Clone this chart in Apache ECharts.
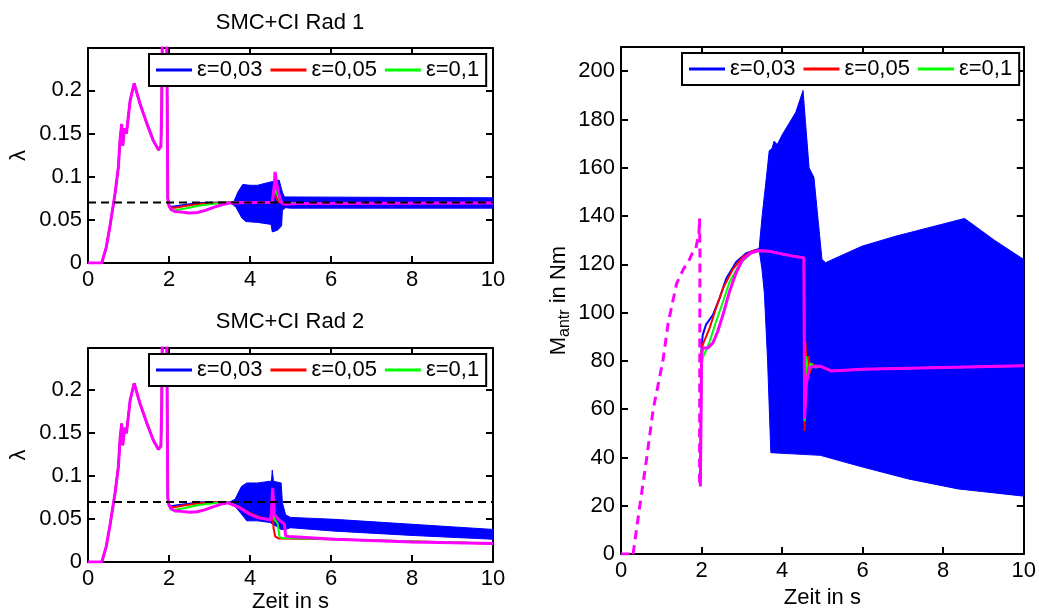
<!DOCTYPE html>
<html>
<head>
<meta charset="utf-8">
<script src="https://cdn.jsdelivr.net/npm/echarts@6/dist/echarts.min.js"></script>
<style>
  html, body { margin: 0; background: #fff; }
  #chart { width: 1039px; height: 614px; }
</style>
</head>
<body>
<div id="chart"></div>
<script>
// ---- data (time in s) ----
// common start of the slip curves (all four eps variants lie on top of each other here)
const riseT = [0, 0.34, 0.45, 0.54, 0.67, 0.75, 0.79, 0.83, 0.86, 0.9, 0.95, 1.04, 1.14, 1.28, 1.45, 1.61, 1.74, 1.8, 1.82, 1.84, 1.94, 1.97];
const riseLambda = [0, 0, 0.018, 0.042, 0.081, 0.111, 0.142, 0.161, 0.136, 0.156, 0.15, 0.188, 0.208, 0.185, 0.162, 0.142, 0.131, 0.135, 0.18, 0.3, 0.3, 0.075];
const lambdaRef = 0.07;

// Rad 1
const rad1Blue = [[2.0, 0.067], [2.05, 0.065], [2.2, 0.066], [2.5, 0.068], [2.8, 0.0695], [3.5, 0.07]];
const rad1BandUpper = [[3.5, 0.07], [3.6, 0.071], [3.7, 0.082], [3.82, 0.091], [4.0, 0.09], [4.19, 0.09], [4.43, 0.093], [4.72, 0.096], [4.8, 0.082], [4.85, 0.0765], [5.0, 0.0765], [10, 0.0755]];
const rad1BandLower = [[3.5, 0.07], [3.65, 0.065], [3.8, 0.052], [3.9, 0.048], [4.19, 0.047], [4.52, 0.0447], [4.55, 0.036], [4.68, 0.038], [4.78, 0.043], [4.8, 0.061], [4.88, 0.064], [5.0, 0.0635], [10, 0.0635]];
const rad1Red = [[2.0, 0.066], [2.05, 0.064], [2.15, 0.064], [2.4, 0.066], [2.7, 0.068], [3.0, 0.0695], [3.5, 0.07], [4.55, 0.07], [4.58, 0.085], [4.62, 0.078], [4.7, 0.071], [4.8, 0.0695], [10, 0.0695]];
const rad1Green = [[2.0, 0.066], [2.05, 0.061], [2.15, 0.061], [2.4, 0.063], [2.7, 0.066], [3.0, 0.068], [3.3, 0.0695], [3.5, 0.07], [4.55, 0.07], [4.6, 0.088], [4.66, 0.08], [4.75, 0.071], [4.85, 0.0695], [10, 0.0695]];
const rad1Magenta = [[2.0, 0.066], [2.05, 0.062], [2.15, 0.0595], [2.3, 0.059], [2.5, 0.058], [2.7, 0.0585], [2.9, 0.061], [3.1, 0.0645], [3.3, 0.0675], [3.5, 0.0695], [4.0, 0.07], [4.55, 0.07], [4.6, 0.09], [4.62, 0.1055], [4.65, 0.095], [4.7, 0.082], [4.75, 0.073], [4.8, 0.069], [4.9, 0.068], [5.2, 0.069], [10, 0.0695]];

// Rad 2
const rad2Blue = [[2.0, 0.067], [2.05, 0.065], [2.2, 0.066], [2.5, 0.068], [2.8, 0.0695], [3.5, 0.07]];
const rad2BandUpper = [[3.5, 0.07], [3.63, 0.073], [3.79, 0.088], [3.92, 0.092], [4.19, 0.092], [4.48, 0.094], [4.53, 0.094], [4.55, 0.107], [4.58, 0.094], [4.77, 0.092], [4.8, 0.069], [4.88, 0.055], [5.0, 0.052], [6.1, 0.0497], [8, 0.044], [10, 0.038]];
const rad2BandLower = [[3.5, 0.07], [3.63, 0.065], [3.83, 0.0535], [3.92, 0.048], [4.19, 0.048], [4.5, 0.046], [4.77, 0.038], [4.88, 0.038], [5.0, 0.04], [6.1, 0.036], [8, 0.031], [10, 0.0266]];
const rad2Red = [[2.0, 0.066], [2.05, 0.064], [2.15, 0.064], [2.4, 0.066], [2.7, 0.068], [3.0, 0.0695], [3.4, 0.07], [3.75, 0.064], [4.0, 0.057], [4.2, 0.053], [4.5, 0.049], [4.55, 0.062], [4.58, 0.04], [4.62, 0.03], [4.7, 0.0275], [6, 0.0265], [10, 0.0215]];
const rad2Green = [[2.0, 0.066], [2.05, 0.061], [2.15, 0.061], [2.4, 0.063], [2.7, 0.066], [3.0, 0.068], [3.3, 0.0695], [3.45, 0.07], [3.75, 0.0635], [4.0, 0.056], [4.2, 0.052], [4.5, 0.049], [4.55, 0.068], [4.6, 0.05], [4.68, 0.045], [4.73, 0.029], [4.8, 0.028], [6, 0.0265], [10, 0.0215]];
const rad2Magenta = [[2.0, 0.066], [2.05, 0.062], [2.15, 0.0595], [2.3, 0.059], [2.5, 0.058], [2.7, 0.0585], [2.9, 0.061], [3.1, 0.0645], [3.3, 0.0675], [3.46, 0.069], [3.75, 0.063], [4.0, 0.0555], [4.19, 0.0517], [4.52, 0.049], [4.56, 0.0864], [4.6, 0.055], [4.7, 0.0497], [4.8, 0.046], [4.85, 0.044], [4.88, 0.0304], [4.96, 0.0297], [6.1, 0.0266], [8, 0.0235], [10, 0.0216]];

// drive torque M_antr in Nm
const torqueBlue = [[1.97, 30], [2.0, 86], [2.03, 90.8], [2.11, 95], [2.28, 99], [2.45, 106], [2.61, 114], [2.86, 121], [3.1, 124.5], [3.35, 126], [3.45, 126.5]];
const torqueBandUpper = [[3.43, 126.7], [3.51, 141], [3.61, 156], [3.68, 167], [3.75, 168], [3.8, 171], [3.88, 169.6], [4.0, 173.6], [4.34, 183], [4.52, 192], [4.58, 179], [4.67, 160], [4.79, 156], [4.99, 122], [5.08, 120.7], [5.98, 127.5], [6.81, 131.6], [8.53, 139], [9.27, 130], [10, 122]];
const torqueBandLower = [[3.43, 126], [3.5, 118], [3.56, 108], [3.64, 80], [3.72, 42], [4.5, 41.3], [4.95, 40.9], [5.9, 36.5], [7.14, 31.1], [8.37, 27], [10, 24]];
const torqueRed = [[1.97, 30], [1.99, 65], [2.0, 84], [2.03, 86.7], [2.2, 93.6], [2.36, 101.8], [2.53, 110], [2.78, 118], [3.02, 123], [3.27, 125.6], [3.43, 125.7], [3.68, 125.4], [4.0, 124.3], [4.3, 123.3], [4.54, 122.7], [4.56, 51], [4.58, 88], [4.62, 72], [4.66, 82], [4.7, 75], [4.75, 79], [4.83, 77.3], [4.95, 77.8], [5.23, 75.8], [6, 76.6], [8, 77.3], [10, 78]];
const torqueGreen = [[1.97, 30], [1.99, 65], [2.0, 78], [2.03, 81.3], [2.2, 88], [2.36, 96.3], [2.53, 104.4], [2.69, 112.5], [2.94, 120], [3.19, 124], [3.35, 125.4], [3.68, 125.4], [4.0, 124.3], [4.3, 123.3], [4.54, 122.7], [4.56, 55], [4.6, 82], [4.65, 74], [4.7, 79], [4.83, 77.3], [4.95, 77.8], [5.23, 75.8], [6, 76.6], [8, 77.3], [10, 78]];
const torqueMagenta = [[0, 0], [0.22, 0], [1.0, null], [1.97, 28], [1.99, 60], [2.0, 82], [2.03, 85.4], [2.16, 85.4], [2.28, 87.4], [2.4, 92.2], [2.53, 99], [2.69, 108.5], [2.86, 116.6], [3.02, 122], [3.23, 124.8], [3.43, 125.7], [3.68, 125.4], [4.0, 124.3], [4.3, 123.3], [4.54, 122.7], [4.56, 56], [4.6, 70], [4.67, 77.3], [4.83, 77.8], [4.95, 77.8], [5.23, 75.8], [6.0, 76.6], [8, 77.3], [10, 78]];
const torqueMagentaDashed = [[0.3, 0], [0.45, 18], [0.64, 40], [0.8, 60], [1.04, 80], [1.17, 95.6], [1.38, 112], [1.55, 118], [1.7, 122], [1.78, 125], [1.85, 126], [1.9, 130], [1.93, 131], [1.95, 139], [1.96, 125], [1.95, 28]];

const legendNames = ['ε=0,03', 'ε=0,05', 'ε=0,1'];
const xTicks = [0, 10, 2];

// ---- helpers ----
const FONT = 'Liberation Sans, Arial, Helvetica, sans-serif';
const BLUE = '#0000ff', RED = '#ff0000', GREEN = '#00ff00', MAGENTA = '#ff00ff';

const rise = riseT.map((t, i) => [t, riseLambda[i]]);

function lineSeries(name, color, width, data, gi, extra) {
    return Object.assign({
        name: name,
        type: 'line',
        xAxisIndex: gi * 2,
        yAxisIndex: gi * 2,
        data: data,
        symbol: 'none',
        showSymbol: false,
        lineStyle: { color: color, width: width },
        itemStyle: { color: color },
        animation: false
    }, extra || {});
}

// oscillating part drawn as a filled band between the envelopes
function bandSeries(upper, lower, gi) {
    const poly = upper.concat(lower.slice().reverse());
    return {
        name: legendNames[0],
        type: 'custom',
        xAxisIndex: gi * 2,
        yAxisIndex: gi * 2,
        data: poly,
        itemStyle: { color: BLUE },
        animation: false,
        renderItem: function (params, api) {
            if (params.dataIndex !== 0) return;
            return {
                type: 'polygon',
                shape: { points: poly.map(p => api.coord(p)) },
                style: { fill: BLUE, stroke: BLUE, lineWidth: 1 }
            };
        }
    };
}

function tickLabel(step, digits) {
    return function (v) {
        const k = v / step;
        return Math.abs(k - Math.round(k)) < 1e-6 ? String(+v.toFixed(digits)) : '';
    };
}

function axisLine() {
    return { show: true, onZero: false, lineStyle: { color: '#000', width: 2 } };
}
function axisTick() {
    return { show: true, inside: true, length: 7, lineStyle: { color: '#000', width: 2 } };
}
const labelStyle = { color: '#000', fontSize: 22, fontFamily: FONT };

function xAxes(gi, name) {
    const base = { type: 'value', gridIndex: gi, min: xTicks[0], max: xTicks[1], interval: xTicks[2], splitLine: { show: false } };
    return [
        Object.assign({}, base, {
            position: 'bottom',
            axisLine: axisLine(),
            axisTick: axisTick(),
            axisLabel: Object.assign({ margin: 6 }, labelStyle),
            name: name || '',
            nameLocation: 'middle',
            nameGap: 26,
            nameTextStyle: labelStyle
        }),
        Object.assign({}, base, { position: 'top', axisLine: axisLine(), axisTick: axisTick(), axisLabel: { show: false } })
    ];
}

function yAxes(gi, max, step, digits, name, nameGap, rich) {
    const base = { type: 'value', gridIndex: gi, min: 0, max: max, interval: step, splitLine: { show: false } };
    return [
        Object.assign({}, base, {
            position: 'left',
            axisLine: axisLine(),
            axisTick: axisTick(),
            axisLabel: Object.assign({ margin: 6, formatter: tickLabel(step, digits) }, labelStyle),
            name: name,
            nameLocation: 'middle',
            nameRotate: 90,
            nameGap: nameGap,
            nameTextStyle: Object.assign({ rich: rich || {} }, labelStyle)
        }),
        Object.assign({}, base, { position: 'right', axisLine: axisLine(), axisTick: axisTick(), axisLabel: { show: false } })
    ];
}

function legend(left, top) {
    return {
        left: left,
        top: top,
        orient: 'horizontal',
        backgroundColor: '#fff',
        borderColor: '#000',
        borderWidth: 2,
        borderRadius: 0,
        padding: [5, 7, 5, 7],
        itemGap: 8,
        itemWidth: 36,
        itemHeight: 3,
        icon: 'rect',
        selectedMode: false,
        z: 10,
        textStyle: { color: '#000', fontSize: 22, fontFamily: FONT },
        data: [
            { name: legendNames[0], itemStyle: { color: BLUE } },
            { name: legendNames[1], itemStyle: { color: RED } },
            { name: legendNames[2], itemStyle: { color: GREEN } }
        ]
    };
}

function refLine(gi) {
    return lineSeries('ref', '#000', 2, [[0, lambdaRef], [10, lambdaRef]], gi, {
        lineStyle: { color: '#000', width: 2, type: [8, 5] }, z: 3
    });
}

const chart = echarts.init(document.getElementById('chart'), null, { renderer: 'canvas' });

const option = {
    backgroundColor: '#fff',
    animation: false,
    grid: [
        { left: 88, top: 48, width: 405, height: 215 },
        { left: 88, top: 348, width: 405, height: 215 },
        { left: 621, top: 47, width: 405, height: 516 }
    ],
    graphic: [
        { type: 'text', x: 290, y: 23, style: { text: 'SMC+CI Rad 1', font: '22px ' + FONT, fill: '#000', align: 'center', verticalAlign: 'middle' } },
        { type: 'text', x: 290, y: 322, style: { text: 'SMC+CI Rad 2', font: '22px ' + FONT, fill: '#000', align: 'center', verticalAlign: 'middle' } }
    ],
    legend: [legend(149, 54), legend(149, 354), legend(682, 53)],
    xAxis: [].concat(xAxes(0, ''), xAxes(1, 'Zeit in s'), xAxes(2, 'Zeit in s')),
    yAxis: [].concat(
        yAxes(0, 0.249, 0.05, 2, 'λ', 58),
        yAxes(1, 0.249, 0.05, 2, 'λ', 58),
        yAxes(2, 210, 20, 0, '{m|M}{s|antr}{m| in Nm}', 48, {
            m: { fontSize: 22, fontFamily: FONT, color: '#000' },
            s: { fontSize: 16, fontFamily: FONT, color: '#000', padding: [12, 0, 0, 0] }
        })
    ),
    series: [
        // Rad 1
        bandSeries(rad1BandUpper, rad1BandLower, 0),
        lineSeries(legendNames[0], BLUE, 2, rise.concat(rad1Blue), 0),
        lineSeries(legendNames[1], RED, 2, rise.concat(rad1Red), 0),
        lineSeries(legendNames[2], GREEN, 2, rise.concat(rad1Green), 0),
        lineSeries('magenta', MAGENTA, 3, rise.concat(rad1Magenta), 0),
        refLine(0),
        // Rad 2
        bandSeries(rad2BandUpper, rad2BandLower, 1),
        lineSeries(legendNames[0], BLUE, 2, rise.concat(rad2Blue), 1),
        lineSeries(legendNames[1], RED, 2, rise.concat(rad2Red), 1),
        lineSeries(legendNames[2], GREEN, 2, rise.concat(rad2Green), 1),
        lineSeries('magenta', MAGENTA, 3, rise.concat(rad2Magenta), 1),
        refLine(1),
        // drive torque
        bandSeries(torqueBandUpper, torqueBandLower, 2),
        lineSeries(legendNames[0], BLUE, 2, torqueBlue, 2),
        lineSeries(legendNames[1], RED, 2, torqueRed, 2),
        lineSeries(legendNames[2], GREEN, 2, torqueGreen, 2),
        lineSeries('magenta', MAGENTA, 3, torqueMagenta, 2),
        lineSeries('magenta dashed', MAGENTA, 3, torqueMagentaDashed, 2, {
            lineStyle: { color: MAGENTA, width: 3, type: [9, 6] }
        })
    ]
};

chart.setOption(option);
</script>
</body>
</html>
